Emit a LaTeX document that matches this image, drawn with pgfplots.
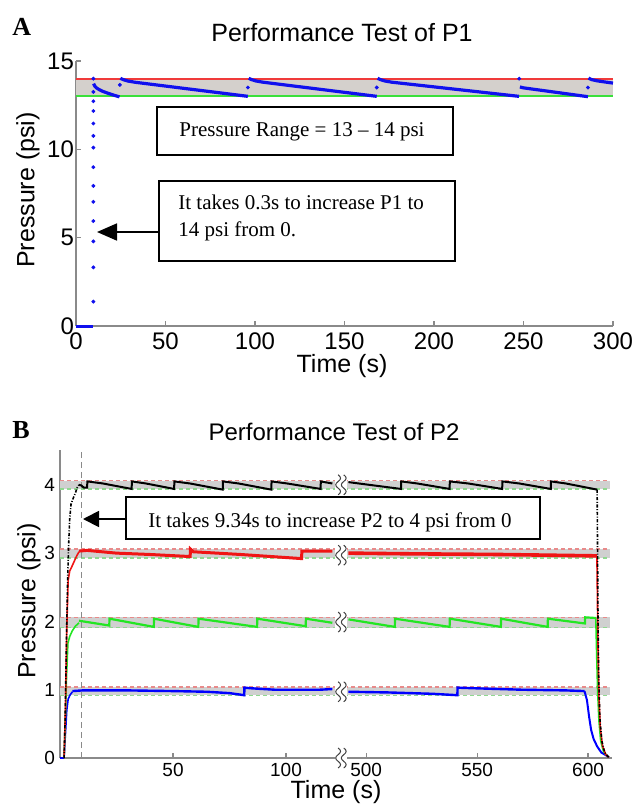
\documentclass[border=0pt]{standalone}
\usepackage{fontspec}
\setmainfont{Liberation Serif}
\setsansfont{Liberation Sans}
\usepackage{pgfplots}
\pgfplotsset{compat=1.18}
\usetikzlibrary{arrows.meta,calc}

\definecolor{bandA}{HTML}{D4D0CC}
\definecolor{redA}{HTML}{F03A3A}
\definecolor{greenA}{HTML}{3AE03A}
\definecolor{ptBlue}{HTML}{1010EE}
\definecolor{bandB}{HTML}{D0D0D0}
\definecolor{redB}{HTML}{E88A8A}
\definecolor{greenB}{HTML}{8FD88F}
\definecolor{lnRed}{HTML}{F01414}
\definecolor{lnGreen}{HTML}{22E622}
\definecolor{axGray}{HTML}{8A8A8A}

\pgfplotsset{
  mat/.style={
    scale only axis, anchor=south west,
    axis x line*=bottom, axis y line*=left,
    axis line style={axGray, line width=0.6pt},
    tick style={axGray, line width=0.6pt},
    major tick length=2.5pt, tick align=inside,
    clip=false,
    /pgf/number format/assume math mode=true,
  },
  bandline/.style={line width=0.6pt, dash pattern=on 2pt off 1.5pt},
  dashdot/.style={dash pattern=on 1.6pt off 0.8pt on 0.5pt off 0.8pt},
}

% break mark between the two halves of panel B
\newcommand{\squig}[1]{%
  \fill[white] ($(#1)+(-3pt,-6pt)$) rectangle ($(#1)+(3pt,6pt)$);
  \foreach \dx in {-1.4,1.4}{%
    \draw[black!75, line width=0.5pt] ($(#1)+(\dx pt,5pt)$)
      .. controls +(1.6pt,-1.1pt) and +(1.6pt,1.1pt) .. ++(0,-3.33pt)
      .. controls +(-1.6pt,-1.1pt) and +(-1.6pt,1.1pt) .. ++(0,-3.33pt)
      .. controls +(1.6pt,-1.1pt) and +(1.6pt,1.1pt) .. ++(0,-3.34pt);}%
}

\begin{document}
\begin{tikzpicture}
\useasboundingbox (0,0) rectangle (317.5pt,-402pt);

% ---------------- panel A ----------------
\begin{axis}[mat,
    at={(38pt,-163pt)}, width=268.5pt, height=132.5pt,
    xmin=0, xmax=300, ymin=0, ymax=15,
    xtick={0,50,...,300}, ytick={0,5,10,15},
    tick label style={font=\sffamily\fontsize{12}{14}\selectfont},
    yticklabel style={xshift=2.5pt},
  ]
  \addplot[fill=bandA, draw=none] coordinates {(0,13) (300,13) (300,14) (0,14)} -- cycle;
  \addplot[redA, line width=1pt] coordinates {(0,14) (300,14)};
  \addplot[greenA, line width=1pt] coordinates {(0,13) (300,13)};
  % pressure trace
  \addplot[ptBlue, line width=1.5pt] coordinates {(0,0) (9.7,0)};
  \addplot[ptBlue, only marks, mark=*, mark size=0.75pt] coordinates {
    (9.7,1.38) (9.7,3.32) (9.7,4.79) (9.7,5.94) (9.7,7.03) (9.7,7.93)
    (9.7,8.99) (9.7,10.1) (9.7,10.76) (9.7,11.46) (9.7,12.17) (9.7,12.72)
    (9.7,13.25) (9.7,14.0)
    (24.5,13.65) (96,13.5) (168,13.5) (247.6,14.0) (286,13.5)};
  \addplot[ptBlue, line width=1.6pt] coordinates {
    (9.8,13.72) (10.5,13.58) (11.5,13.47) (13,13.38) (15,13.28) (18,13.17) (21,13.07) (24.3,12.97)};
  \addplot[ptBlue, line width=1.6pt] coordinates {
    (24.8,14.02) (26.3,13.95) (28.8,13.87) (32.8,13.8) (96,13.0)};
  \addplot[ptBlue, line width=1.6pt] coordinates {
    (96.5,14.02) (98,13.95) (100.5,13.87) (104.5,13.8) (168,13.0)};
  \addplot[ptBlue, line width=1.6pt] coordinates {
    (168.5,14.02) (170,13.95) (172.5,13.87) (176.5,13.8) (247.5,13.0)};
  \addplot[ptBlue, line width=1.6pt] coordinates {
    (248,13.53) (250,13.48) (286,12.98)};
  \addplot[ptBlue, line width=1.6pt] coordinates {
    (286.3,14.03) (288,13.95) (291,13.88) (295,13.82) (300,13.75)};
\end{axis}

% ---------------- panel B, left part ----------------
\begin{axis}[mat,
    at={(30pt,-379pt)}, width=139pt, height=154pt,
    xmin=0, xmax=123, ymin=0, ymax=4.51,
    xtick={50,100}, ytick={0,1,2,3,4},
    tick label style={font=\sffamily\fontsize{9.5}{11}\selectfont},
    yticklabel style={xshift=1pt},
    xticklabel style={inner sep=1pt, yshift=-1.5pt},
  ]
  \addplot[fill=bandB, draw=none] coordinates {(0,3.94) (123,3.94) (123,4.06) (0,4.06)} -- cycle;
  \addplot[fill=bandB, draw=none] coordinates {(0,2.93) (123,2.93) (123,3.06) (0,3.06)} -- cycle;
  \addplot[fill=bandB, draw=none] coordinates {(0,1.91) (123,1.91) (123,2.06) (0,2.06)} -- cycle;
  \addplot[fill=bandB, draw=none] coordinates {(0,0.92) (123,0.92) (123,1.04) (0,1.04)} -- cycle;
  \addplot[redB, bandline] coordinates {(0,4.06) (123,4.06)};
  \addplot[greenB, bandline] coordinates {(0,3.94) (123,3.94)};
  \addplot[redB, bandline] coordinates {(0,3.06) (123,3.06)};
  \addplot[greenB, bandline] coordinates {(0,2.93) (123,2.93)};
  \addplot[redB, bandline] coordinates {(0,2.06) (123,2.06)};
  \addplot[greenB, bandline] coordinates {(0,1.91) (123,1.91)};
  \addplot[redB, bandline] coordinates {(0,1.04) (123,1.04)};
  \addplot[greenB, bandline] coordinates {(0,0.92) (123,0.92)};
  \addplot[axGray, line width=0.5pt, dash pattern=on 3pt off 2pt] coordinates {(9.34,0) (9.34,4.51)};
  % 1 psi
  \addplot[blue, line width=1.2pt] coordinates {(0,0) (1.8,0)};
  \addplot[blue, line width=0.8pt] coordinates {
    (1.8,0) (2.4,0.35) (3.0,0.7) (3.6,0.86) (4.4,0.92) (5.5,0.97)};
  \addplot[blue, line width=1.2pt] coordinates {
    (5.5,0.98) (10,0.99) (30,0.99) (50,0.98) (65,0.97) (75,0.95) (81.5,0.92)
    (81.6,1.03) (85,1.02) (95,1.0) (105,1.0) (115,1.0) (120.5,1.01)};
  % 2 psi
  \addplot[lnGreen, line width=0.8pt] coordinates {
    (1.8,0) (2.3,0.5) (2.9,1.2) (3.5,1.68) (4.3,1.78) (5.4,1.86) (6.8,1.93) (8.4,1.98)};
  \addplot[lnGreen, line width=1.1pt] coordinates {
    (8.4,2.01) (21.8,1.94) (21.9,2.04) (41.5,1.92) (41.6,2.04) (61.2,1.92) (61.3,2.04)
    (87.2,1.92) (87.3,2.04) (108.7,1.93) (108.8,2.04) (120.5,1.98)};
  % 3 psi
  \addplot[lnRed, line width=0.8pt] coordinates {
    (1.8,0) (2.4,0.7) (3.0,1.9) (3.6,2.6) (4.3,2.74) (5.2,2.8) (6.3,2.88) (7.4,2.96) (8.4,3.02)};
  \addplot[lnRed, line width=1.5pt] coordinates {
    (8.4,3.03) (12,3.04) (25,3.0) (40,2.98) (57.6,2.95) (57.7,3.06) (59,3.02)
    (80,2.98) (106.9,2.92) (107,3.03) (120.5,3.03)};
  % 4 psi
  \addplot[black, line width=0.8pt, dashdot] coordinates {
    (1.8,0) (2.3,0.6) (2.8,1.6) (3.3,2.5) (3.8,3.1) (4.3,3.5) (4.9,3.72)
    (5.8,3.8) (6.8,3.88) (7.6,3.96) (8.4,4.0)};
  \addplot[black, line width=1pt] coordinates {
    (8.4,4.0) (9.5,3.99) (10.5,3.96) (12,3.96)
    (12.1,4.05) (19,4.02) (31.7,3.94)
    (31.8,4.05) (38,4.02) (50.5,3.94)
    (50.6,4.05) (57.5,4.02) (72,3.93)
    (72.1,4.05) (79,4.02) (93.5,3.93)
    (93.6,4.05) (100.5,4.02) (115.3,3.94)
    (115.4,4.05) (117,4.04) (120.5,4.02)};
  \coordinate (s4) at (axis cs:124.3,4.0);
  \coordinate (s3) at (axis cs:124.3,2.97);
  \coordinate (s2) at (axis cs:124.3,1.99);
  \coordinate (s1) at (axis cs:124.3,0.97);
  \coordinate (s0) at (axis cs:124.3,0);
\end{axis}

% ---------------- panel B, right part ----------------
\begin{axis}[mat,
    at={(172pt,-379pt)}, width=134pt, height=154pt,
    xmin=490, xmax=610.8, ymin=0, ymax=4.51,
    axis y line=none,
    xtick={500,550,600}, ytick=\empty,
    tick label style={font=\sffamily\fontsize{9.5}{11}\selectfont},
    xticklabel style={inner sep=1pt, yshift=-1.5pt},
  ]
  \addplot[fill=bandB, draw=none] coordinates {(490,3.94) (609.8,3.94) (609.8,4.06) (490,4.06)} -- cycle;
  \addplot[fill=bandB, draw=none] coordinates {(490,2.93) (609.8,2.93) (609.8,3.06) (490,3.06)} -- cycle;
  \addplot[fill=bandB, draw=none] coordinates {(490,1.91) (609.8,1.91) (609.8,2.06) (490,2.06)} -- cycle;
  \addplot[fill=bandB, draw=none] coordinates {(490,0.92) (609.8,0.92) (609.8,1.04) (490,1.04)} -- cycle;
  \addplot[redB, bandline] coordinates {(490,4.06) (609.8,4.06)};
  \addplot[greenB, bandline] coordinates {(490,3.94) (609.8,3.94)};
  \addplot[redB, bandline] coordinates {(490,3.06) (609.8,3.06)};
  \addplot[greenB, bandline] coordinates {(490,2.93) (609.8,2.93)};
  \addplot[redB, bandline] coordinates {(490,2.06) (609.8,2.06)};
  \addplot[greenB, bandline] coordinates {(490,1.91) (609.8,1.91)};
  \addplot[redB, bandline] coordinates {(490,1.04) (609.8,1.04)};
  \addplot[greenB, bandline] coordinates {(490,0.92) (609.8,0.92)};
  % 1 psi
  \addplot[blue, line width=1.2pt] coordinates {
    (492,0.97) (510,0.96) (530,0.94) (541.1,0.92) (541.2,1.03) (550,1.02)
    (570,1.0) (590,0.99) (598.4,0.98)};
  \addplot[blue, line width=1pt] coordinates {
    (598.4,0.98) (599.5,0.85) (600.5,0.6) (601.4,0.41) (602.5,0.28) (604.1,0.17)
    (606,0.08) (608.6,0.03) (609.4,0.01)};
  % 2 psi
  \addplot[lnGreen, line width=1.1pt] coordinates {
    (492,2.03) (512.9,1.92) (513,2.04) (537.6,1.92) (537.7,2.04) (560.7,1.92)
    (560.8,2.04) (581.8,1.92) (581.9,2.04) (598.6,1.97) (598.7,2.06) (603.5,2.05)};
  \addplot[lnGreen, line width=0.8pt] coordinates {
    (603.5,2.05) (603.9,1.5) (604.3,1.0) (604.9,0.55) (605.7,0.25) (607,0.09) (609.3,0.01)};
  % 3 psi
  \addplot[lnRed, line width=1.8pt] coordinates {
    (492,3.0) (520,2.99) (560,2.98) (604,2.96)};
  \addplot[lnRed, line width=0.8pt] coordinates {
    (604,2.96) (604.2,2.4) (604.5,1.6) (604.9,0.9) (605.5,0.45) (606.5,0.18) (608,0.05) (609.4,0.01)};
  % 4 psi
  \addplot[black, line width=1pt] coordinates {
    (492,4.04) (499,4.01) (515.7,3.94)
    (515.8,4.05) (523,4.02) (537.6,3.94)
    (537.7,4.05) (546,4.02) (561.3,3.94)
    (561.4,4.05) (569,4.02) (583.2,3.94)
    (583.3,4.05) (590,4.02) (604.1,3.93)};
  \addplot[black, line width=0.8pt, dashdot] coordinates {
    (604.1,3.93) (604.3,3.0) (604.5,2.0) (604.8,1.2) (605.3,0.6) (606.2,0.25) (607.5,0.08) (609.3,0.01)};
\end{axis}

\squig{s4}\squig{s3}\squig{s2}\squig{s1}\squig{s0}

% ---------------- annotations ----------------
\node[anchor=base west, inner sep=0, font=\bfseries\fontsize{13}{14}\selectfont] at (6pt,-17.5pt) {A};
\node[anchor=base west, inner sep=0, font=\bfseries\fontsize{13}{14}\selectfont] at (6pt,-219pt) {B};
\node[anchor=base, font=\sffamily\fontsize{12.5}{14}\selectfont] at (171pt,-20.5pt) {Performance Test of P1};
\node[anchor=base, font=\sffamily\fontsize{12}{14}\selectfont] at (167pt,-220pt) {Performance Test of P2};
\node[anchor=base, font=\sffamily\fontsize{12.5}{14}\selectfont] at (171pt,-186pt) {Time (s)};
\node[anchor=base, inner sep=0, font=\sffamily\fontsize{12.5}{14}\selectfont] at (168pt,-399.3pt) {Time (s)};
\node[rotate=90, font=\sffamily\fontsize{12.5}{14}\selectfont] at (14pt,-95pt) {Pressure (psi)};
\node[rotate=90, font=\sffamily\fontsize{12.5}{14}\selectfont] at (14.5pt,-300.5pt) {Pressure (psi)};

\draw[line width=1.1pt] (78.5pt,-53.5pt) rectangle (226.5pt,-77.5pt);
\node[anchor=base, inner sep=0, font=\fontsize{10.5}{12}\selectfont] at (151pt,-68pt) {Pressure Range = 13 – 14 psi};
\draw[line width=1.1pt] (79.5pt,-90.5pt) rectangle (227.5pt,-130.5pt);
\node[anchor=base west, inner sep=0, font=\fontsize{10.5}{12}\selectfont] at (89pt,-104.5pt) {It takes 0.3s to increase P1 to};
\node[anchor=base west, inner sep=0, font=\fontsize{10.5}{12}\selectfont] at (89pt,-118pt) {14 psi from 0.};
\draw[line width=0.9pt, -{Triangle[length=10pt,width=8.5pt]}] (79.5pt,-116pt) -- (48.5pt,-116pt);

\draw[line width=1pt] (63pt,-248.5pt) rectangle (270pt,-269.5pt);
\node[anchor=base, inner sep=0, font=\fontsize{10.5}{12}\selectfont] at (165pt,-263.5pt) {It takes 9.34s to increase P2 to 4 psi from 0};
\draw[line width=0.9pt, -{Triangle[length=8pt,width=8pt]}] (63pt,-259.5pt) -- (41.5pt,-259.5pt);
\end{tikzpicture}
\end{document}
